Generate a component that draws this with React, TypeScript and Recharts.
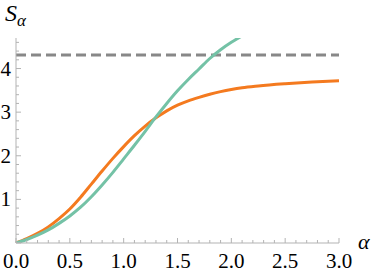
import { LineChart, Line, XAxis, YAxis, ReferenceLine } from "recharts"

const ALPHA = [0, 0.1, 0.2, 0.3, 0.4, 0.5, 0.6, 0.7, 0.8, 0.9, 1.0, 1.1, 1.2, 1.3, 1.4, 1.5, 1.6, 1.7, 1.8, 1.9, 2.0, 2.1, 2.25, 2.5, 2.75, 3.0]
const ORANGE = [0, 0.1, 0.22, 0.37, 0.56, 0.78, 1.05, 1.35, 1.65, 1.94, 2.21, 2.46, 2.68, 2.87, 3.03, 3.16, 3.26, 3.34, 3.41, 3.47, 3.52, 3.56, 3.6, 3.65, 3.69, 3.72]
const GREEN = [0, 0.08, 0.18, 0.3, 0.45, 0.62, 0.82, 1.06, 1.33, 1.62, 1.93, 2.24, 2.56, 2.89, 3.2, 3.49, 3.75, 3.99, 4.23, 4.43, 4.6, 4.75, null, null, null, null]
const LIMIT = 4.31

const X_TICKS = [0, 0.1, 0.2, 0.3, 0.4, 0.5, 0.6, 0.7, 0.8, 0.9, 1.0, 1.1, 1.2, 1.3, 1.4, 1.5, 1.6, 1.7, 1.8, 1.9, 2.0, 2.1, 2.2, 2.3, 2.4, 2.5, 2.6, 2.7, 2.8, 2.9, 3.0]
const Y_TICKS = [0, 0.2, 0.4, 0.6, 0.8, 1, 1.2, 1.4, 1.6, 1.8, 2, 2.2, 2.4, 2.6, 2.8, 3, 3.2, 3.4, 3.6, 3.8, 4, 4.2, 4.4, 4.6]

const data = ALPHA.map((a, i) => ({ a, orange: ORANGE[i], green: GREEN[i] }))

const FONT = "Times New Roman, Liberation Serif, DejaVu Serif, serif"
const AXIS_COLOR = "#b3b3b3"

function isMajor(v: number, step: number) {
  return Math.abs(v / step - Math.round(v / step)) < 1e-6
}

function XTick(props: any) {
  const { x, y, payload } = props
  const major = isMajor(payload.value, 0.5)
  return (
    <g>
      <line x1={x} x2={x} y1={y} y2={y - (major ? 5 : 3)} stroke={AXIS_COLOR} strokeWidth={1} />
      {major ? (
        <text x={x} y={y + 25} textAnchor="middle" style={{ fontFamily: FONT }} fontSize={21} fill="#000">
          {payload.value.toFixed(1)}
        </text>
      ) : null}
    </g>
  )
}

function YTick(props: any) {
  const { x, y, payload } = props
  const major = isMajor(payload.value, 1)
  return (
    <g>
      <line x1={x} x2={x + (major ? 5 : 3)} y1={y} y2={y} stroke={AXIS_COLOR} strokeWidth={1} />
      {major && payload.value !== 0 ? (
        <text x={x - 5} y={y + 7} textAnchor="end" style={{ fontFamily: FONT }} fontSize={21} fill="#000">
          {payload.value}
        </text>
      ) : null}
    </g>
  )
}

export default function App() {
  return (
    <div style={{ position: "absolute", left: 0, top: 0, width: 374, height: 277, background: "#fff" }}>
      <LineChart width={374} height={277} data={data} margin={{ top: 38, right: 35, left: 0, bottom: 0 }}>
        <XAxis
          dataKey="a"
          type="number"
          domain={[0, 3]}
          ticks={X_TICKS}
          interval={0}
          height={34}
          tickSize={0}
          tickMargin={0}
          tickLine={false}
          axisLine={{ stroke: AXIS_COLOR }}
          tick={<XTick />}
        />
        <YAxis
          type="number"
          domain={[0, 4.7]}
          allowDataOverflow
          ticks={Y_TICKS}
          interval={0}
          width={16}
          tickSize={0}
          tickMargin={0}
          tickLine={false}
          axisLine={{ stroke: AXIS_COLOR }}
          tick={<YTick />}
        />
        <ReferenceLine y={LIMIT} stroke="#888888" strokeWidth={3} strokeDasharray="10 5" />
        <Line type="monotone" dataKey="orange" stroke="#f47a1f" strokeWidth={3} dot={false} isAnimationActive={false} />
        <Line type="monotone" dataKey="green" stroke="#74c2a6" strokeWidth={3} dot={false} isAnimationActive={false} />
      </LineChart>
      <div style={{ position: "absolute", left: 5, top: -2, fontFamily: FONT, fontStyle: "italic", fontSize: 24, lineHeight: "30px", whiteSpace: "nowrap" }}>
        S<span style={{ fontSize: 17, position: "relative", top: 5 }}>α</span>
      </div>
      <div style={{ position: "absolute", left: 358, top: 229, fontFamily: FONT, fontStyle: "italic", fontSize: 22, lineHeight: "26px" }}>
        α
      </div>
    </div>
  )
}
